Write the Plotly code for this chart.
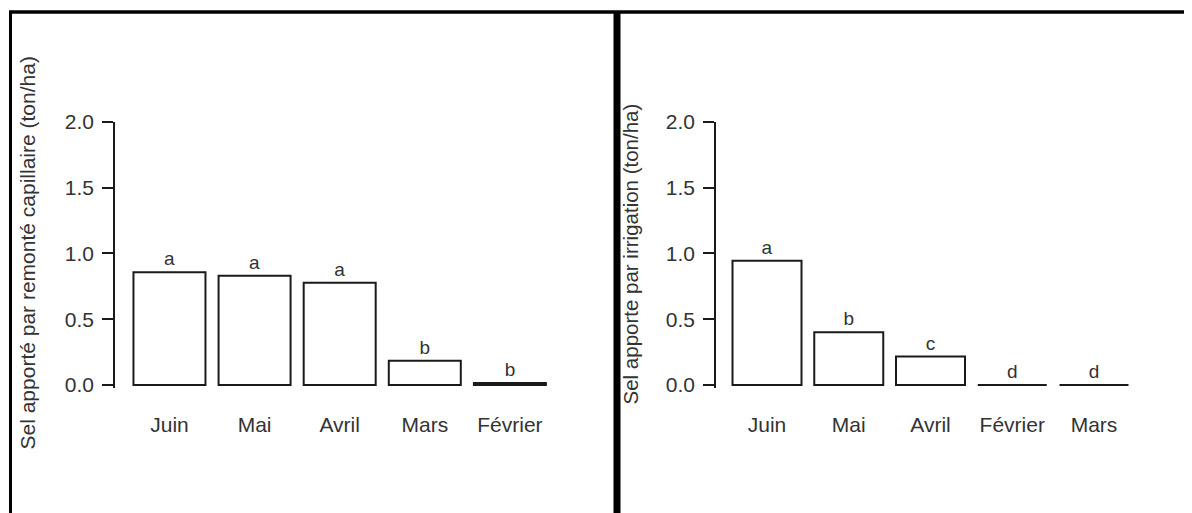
import plotly.graph_objects as go

# ---- data ----
left_months = ["Juin", "Mai", "Avril", "Mars", "Février"]
left_values = [0.858, 0.830, 0.778, 0.185, 0.015]
left_letters = ["a", "a", "a", "b", "b"]
left_title = "Sel apporté par remonté capillaire (ton/ha)"

right_months = ["Juin", "Mai", "Avril", "Février", "Mars"]
right_values = [0.944, 0.401, 0.216, 0.0, 0.0]
right_letters = ["a", "b", "c", "d", "d"]
right_title = "Sel apporte par irrigation (ton/ha)"

y_ticks = [0.0, 0.5, 1.0, 1.5, 2.0]
y_ticktext = ["0.0", "0.5", "1.0", "1.5", "2.0"]

W, H = 1192, 513
OFF = 8  # page body margin offset
FONT = "Liberation Sans, Arial, sans-serif"
TXT = "#333333"
LINE = "#1a1a1a"

def px_x(p):
    return (p - OFF) / W

def px_y(p):
    return 1 - (p - OFF) / H

fig = go.Figure()

fig.add_trace(go.Bar(
    x=list(range(len(left_months))), y=left_values, text=left_letters,
    textposition="outside", textfont=dict(size=19, color=TXT, family=FONT),
    marker=dict(color="white", line=dict(color=LINE, width=2)),
    width=0.846, xaxis="x", yaxis="y", cliponaxis=False, showlegend=False,
    hoverinfo="x+y",
))
fig.add_trace(go.Bar(
    x=list(range(len(right_months))), y=right_values, text=right_letters,
    textposition="outside", textfont=dict(size=19, color=TXT, family=FONT),
    marker=dict(color="white", line=dict(color=LINE, width=2)),
    width=0.844, xaxis="x2", yaxis="y2", cliponaxis=False, showlegend=False,
    hoverinfo="x+y",
))

ydom = [px_y(387.6), px_y(122)]
yrange = [-0.02, 2.0]

def xaxis(dom, rng, labels, anchor):
    return dict(
        domain=dom, range=rng, anchor=anchor, tickmode="array",
        tickvals=list(range(len(labels))), ticktext=labels,
        showline=False, showgrid=False, zeroline=False, ticks="",
        tickfont=dict(size=21, color=TXT, family=FONT),
        ticklabelstandoff=22, fixedrange=True, automargin=False,
    )

def yaxis(anchor):
    return dict(
        domain=ydom, range=yrange, anchor=anchor,
        tickmode="array", tickvals=y_ticks, ticktext=y_ticktext,
        showline=True, linecolor=LINE, linewidth=1.5,
        ticks="outside", ticklen=11, tickwidth=1.5, tickcolor=LINE,
        showgrid=False, zeroline=False,
        tickfont=dict(size=21, color=TXT, family=FONT),
        ticklabelstandoff=4, fixedrange=True, automargin=False,
    )

fig.update_layout(
    width=W, height=H,
    margin=dict(l=0, r=0, t=0, b=0, autoexpand=False),
    paper_bgcolor="white", plot_bgcolor="rgba(0,0,0,0)",
    xaxis=xaxis([px_x(115), px_x(590)], [-0.640, 4.941], left_months, "y"),
    xaxis2=xaxis([px_x(716), px_x(1180)], [-0.624, 5.052], right_months, "y2"),
    yaxis=yaxis("x"),
    yaxis2=yaxis("x2"),
    showlegend=False,
    font=dict(family=FONT, color=TXT),
)

# axis titles
fig.add_annotation(text=left_title, x=px_x(27), y=px_y(253.5), xref="paper", yref="paper",
                   textangle=-90, showarrow=False, font=dict(size=21, color=TXT, family=FONT),
                   xanchor="center", yanchor="middle")
fig.add_annotation(text=right_title, x=px_x(630), y=px_y(254.5), xref="paper", yref="paper",
                   textangle=-90, showarrow=False, font=dict(size=20.5, color=TXT, family=FONT),
                   xanchor="center", yanchor="middle")

# frame lines
fig.add_shape(type="line", xref="paper", yref="paper", x0=px_x(9), x1=1, y0=px_y(12), y1=px_y(12),
              line=dict(color="black", width=3.5))
fig.add_shape(type="line", xref="paper", yref="paper", x0=px_x(10.5), x1=px_x(10.5), y0=0, y1=px_y(12),
              line=dict(color="black", width=3))
fig.add_shape(type="line", xref="paper", yref="paper", x0=px_x(617), x1=px_x(617), y0=0, y1=px_y(12),
              line=dict(color="black", width=7))

fig.write_html("out.html")
